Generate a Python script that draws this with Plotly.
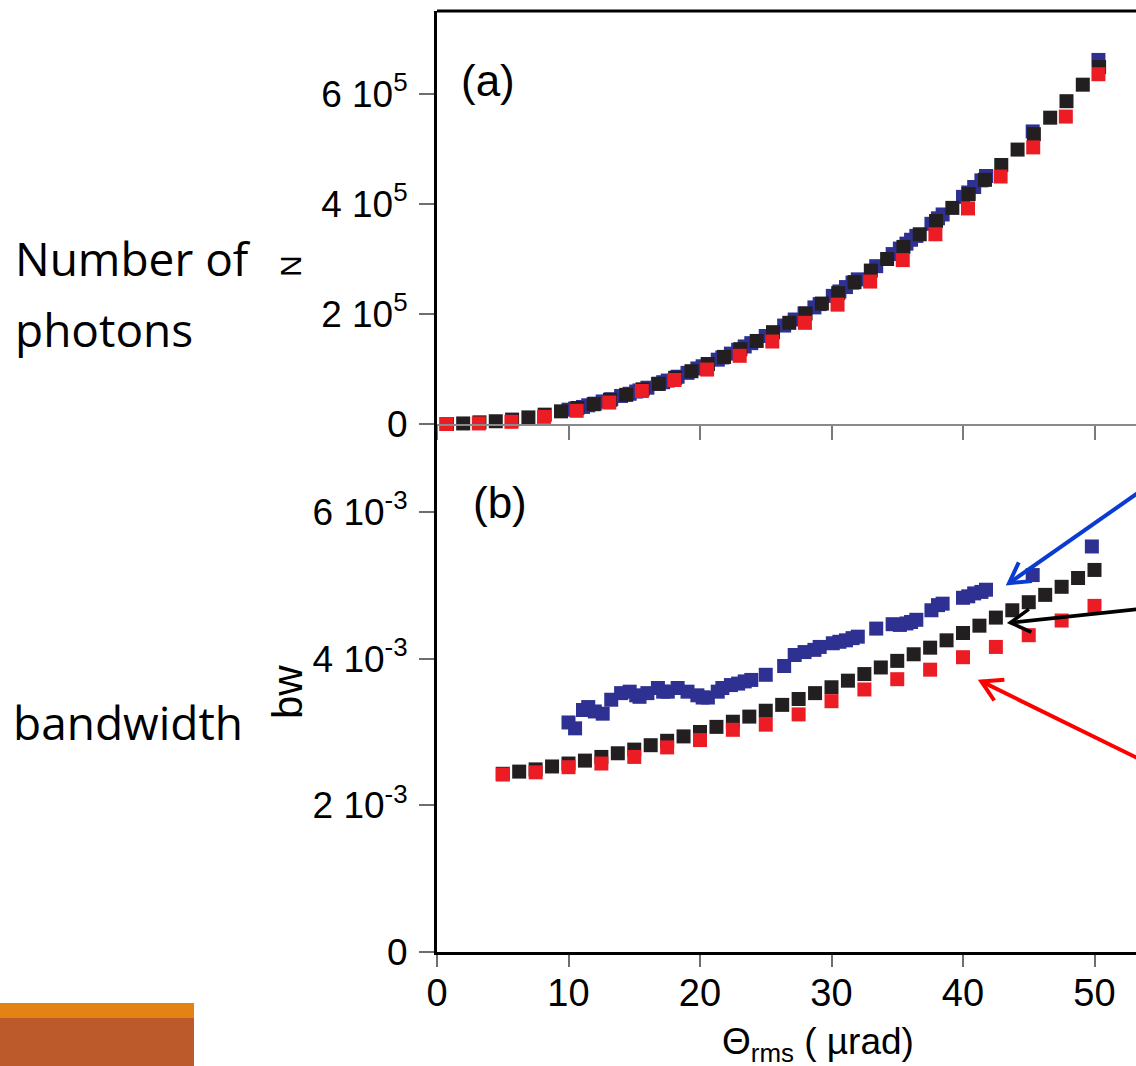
import numpy as np
import plotly.graph_objects as go

# ---------------- data ----------------
# (a) number of photons, N (units of 1e5)
theta_black_a = [0.75, 1.99, 3.23, 4.47, 5.71, 6.95, 8.19, 9.43, 10.67, 11.91, 13.15, 14.39,
                 15.63, 16.87, 18.11, 19.35, 20.59, 21.83, 23.07, 24.31, 25.55, 26.79, 28.03,
                 29.27, 30.51, 31.75, 32.99, 34.23, 35.47, 36.71, 37.95, 39.19, 40.43, 41.67,
                 42.91, 44.15, 45.39, 46.63, 47.87, 49.11, 50.35]
n_black_a = [0.00, 0.01, 0.03, 0.05, 0.08, 0.12, 0.17, 0.23, 0.29, 0.36, 0.44, 0.53,
             0.63, 0.73, 0.84, 0.96, 1.09, 1.22, 1.36, 1.51, 1.67, 1.84, 2.01,
             2.19, 2.38, 2.58, 2.79, 3.00, 3.22, 3.45, 3.69, 3.93, 4.18, 4.44,
             4.71, 4.99, 5.27, 5.57, 5.87, 6.17, 6.49]

theta_red_a = [0.70, 3.18, 5.66, 8.14, 10.62, 13.10, 15.58, 18.06, 20.54, 23.02, 25.50,
               27.98, 30.46, 32.94, 35.42, 37.90, 40.38, 42.86, 45.34, 47.82, 50.30]
n_red_a = [0.00, 0.01, 0.04, 0.13, 0.24, 0.39, 0.60, 0.80, 0.99, 1.24, 1.50,
           1.84, 2.17, 2.59, 2.98, 3.45, 3.92, 4.50, 5.03, 5.59, 6.36]

theta_blue_a = [10.0, 10.5, 11.1, 11.5, 12.0, 12.6, 13.25, 14.0, 14.65, 15.15, 15.4, 16.0,
                16.8, 17.2, 17.55, 18.3, 19.05, 19.8, 20.2, 20.6, 21.35, 21.7, 22.35, 22.9,
                23.4, 23.9, 25.0, 26.4, 27.2, 27.95, 28.7, 29.1, 30.1, 30.6, 31.1, 31.6,
                32.0, 33.4, 34.65, 35.2, 35.7, 36.05, 36.45, 37.6, 38.1, 38.45, 40.0, 40.4,
                40.85, 41.4, 41.75, 45.3, 50.3]
n_blue_a = [0.26, 0.28, 0.31, 0.34, 0.37, 0.41, 0.45, 0.51, 0.55, 0.59, 0.61, 0.66,
            0.73, 0.76, 0.79, 0.86, 0.93, 1.01, 1.05, 1.09, 1.17, 1.21, 1.28, 1.35,
            1.41, 1.47, 1.60, 1.79, 1.90, 2.01, 2.12, 2.18, 2.33, 2.41, 2.49, 2.57,
            2.63, 2.87, 3.09, 3.19, 3.28, 3.35, 3.42, 3.64, 3.74, 3.81, 4.13, 4.21,
            4.31, 4.43, 4.51, 5.32, 6.62]

# (b) bandwidth, bw (units of 1e-3)
theta_black_b = [5.0, 6.25, 7.5, 8.75, 10.0, 11.25, 12.5, 13.75, 15.0, 16.25, 17.5, 18.75,
                 20.0, 21.25, 22.5, 23.75, 25.0, 26.25, 27.5, 28.75, 30.0, 31.25, 32.5,
                 33.75, 35.0, 36.25, 37.5, 38.75, 40.0, 41.25, 42.5, 43.75, 45.0, 46.25,
                 47.5, 48.75, 50.0]
bw_black_b = [2.43, 2.46, 2.49, 2.53, 2.57, 2.61, 2.66, 2.71, 2.76, 2.82, 2.88, 2.94,
              3.00, 3.07, 3.14, 3.21, 3.29, 3.37, 3.45, 3.53, 3.61, 3.70, 3.79,
              3.88, 3.97, 4.06, 4.15, 4.25, 4.35, 4.45, 4.56, 4.66, 4.77, 4.87,
              4.98, 5.10, 5.21]

theta_red_b = [5.0, 7.5, 10.0, 12.5, 15.0, 17.5, 20.0, 22.5, 25.0, 27.5, 30.0, 32.5,
               35.0, 37.5, 40.0, 42.5, 45.0, 47.5, 50.0]
bw_red_b = [2.42, 2.45, 2.52, 2.57, 2.66, 2.79, 2.89, 3.03, 3.10, 3.24, 3.42, 3.58,
            3.72, 3.85, 4.02, 4.16, 4.32, 4.52, 4.72]

theta_blue_b = [10.0, 10.5, 11.1, 11.5, 12.0, 12.6, 13.25, 14.0, 14.65, 15.15, 15.4, 16.0,
                16.8, 17.2, 17.55, 18.3, 19.05, 19.8, 20.2, 20.6, 21.35, 21.7, 22.35, 22.9,
                23.4, 23.9, 25.0, 26.4, 27.2, 27.95, 28.7, 29.1, 30.1, 30.6, 31.1, 31.6,
                32.0, 33.4, 34.65, 35.2, 35.7, 36.05, 36.45, 37.6, 38.1, 38.45, 40.0, 40.4,
                40.85, 41.4, 41.75, 45.3, 49.8]
bw_blue_b = [3.13, 3.05, 3.30, 3.34, 3.28, 3.25, 3.44, 3.53, 3.55, 3.50, 3.48, 3.53,
             3.60, 3.55, 3.55, 3.60, 3.55, 3.50, 3.47, 3.47, 3.55, 3.60, 3.64, 3.66,
             3.69, 3.71, 3.78, 3.90, 4.05, 4.09, 4.12, 4.16, 4.21, 4.23, 4.25, 4.28,
             4.30, 4.41, 4.47, 4.46, 4.48, 4.50, 4.53, 4.66, 4.73, 4.75, 4.83, 4.85,
             4.89, 4.91, 4.94, 5.14, 5.53]

x_ticks = [0, 10, 20, 30, 40, 50]
n_tickvals = [0, 2e5, 4e5, 6e5]
n_ticktext = ["0", "2 10<sup>5</sup>", "4 10<sup>5</sup>", "6 10<sup>5</sup>"]
bw_tickvals = [0, 2e-3, 4e-3, 6e-3]
bw_ticktext = ["0", "2 10<sup>-3</sup>", "4 10<sup>-3</sup>", "6 10<sup>-3</sup>"]

# ---------------- styling ----------------
W, H = 1136, 1066
ML, MR, MT, MB = 437, 0, 11, 114
PW, PH = W - ML - MR, H - MT - MB
X_MAX = PW / 13.15
SPLIT = (PH - 413) / PH          # boundary between panels (a) and (b)
BW_MAX = 7.2e-3

RED = "#ec1c24"
BLACK = "#231f20"
BLUE = "#2e3192"
AX_FONT = "Liberation Sans, Arial, sans-serif"
TXT_FONT = "Open Sans, sans-serif"
MSIZE = 14


def px_x(px):
    return (px - ML) / PW


def px_y(py):
    return (H - MB - py) / PH


fig = go.Figure()

scale_a, scale_b = 1e5, 1e-3
for xs, ys, col in [(theta_blue_a, n_blue_a, BLUE), (theta_black_a, n_black_a, BLACK),
                    (theta_red_a, n_red_a, RED)]:
    fig.add_trace(go.Scatter(x=xs, y=[v * scale_a for v in ys], mode="markers",
                             marker=dict(symbol="square", size=MSIZE, color=col, line=dict(width=0)),
                             xaxis="x", yaxis="y", cliponaxis=False, showlegend=False))
for xs, ys, col in [(theta_blue_b, bw_blue_b, BLUE), (theta_black_b, bw_black_b, BLACK),
                    (theta_red_b, bw_red_b, RED)]:
    fig.add_trace(go.Scatter(x=xs, y=[v * scale_b for v in ys], mode="markers",
                             marker=dict(symbol="square", size=MSIZE, color=col, line=dict(width=0)),
                             xaxis="x2", yaxis="y2", cliponaxis=False, showlegend=False))

tickfont = dict(family=AX_FONT, size=37, color="black")
fig.update_layout(
    width=W, height=H,
    margin=dict(l=ML, r=MR, t=MT, b=MB, pad=0),
    paper_bgcolor="white", plot_bgcolor="white",
    showlegend=False,
    xaxis=dict(domain=[0, 1], anchor="y", range=[0, X_MAX], tickvals=x_ticks,
               showticklabels=False, ticks="outside", ticklen=14, tickwidth=2,
               tickcolor="#7a7a7a", showline=True, linecolor="#8a8a8a", linewidth=2,
               showgrid=False, zeroline=False),
    yaxis=dict(domain=[SPLIT, 1], anchor="x", range=[0, 7.51e5], tickvals=n_tickvals,
               ticktext=n_ticktext, tickfont=tickfont, ticks="outside", ticklen=15,
               tickwidth=2, tickcolor="#6e6e6e", showline=True, linecolor="black",
               linewidth=3, showgrid=False, zeroline=False, ticklabelstandoff=4),
    xaxis2=dict(domain=[0, 1], anchor="y2", range=[0, X_MAX], tickvals=x_ticks,
                tickfont=dict(family=AX_FONT, size=38, color="black"), ticks="outside",
                ticklen=12, tickwidth=2, tickcolor="#6e6e6e", showline=True,
                linecolor="black", linewidth=3, showgrid=False, zeroline=False,
                ticklabelstandoff=-7),
    yaxis2=dict(domain=[0, SPLIT], anchor="x2", range=[0, BW_MAX], tickvals=bw_tickvals,
                ticktext=bw_ticktext, tickfont=tickfont, ticks="outside", ticklen=15,
                tickwidth=2, tickcolor="#6e6e6e", showline=True, linecolor="black",
                linewidth=3, showgrid=False, zeroline=False, ticklabelstandoff=4),
)

# frame top edge
fig.add_shape(type="line", xref="paper", yref="paper", x0=0, x1=1, y0=1, y1=1,
              line=dict(color="black", width=3))

# footer band
fig.add_shape(type="rect", xref="paper", yref="paper", x0=px_x(0), x1=px_x(194),
              y0=px_y(1018), y1=px_y(1003), fillcolor="#e38314", line=dict(width=0), layer="above")
fig.add_shape(type="rect", xref="paper", yref="paper", x0=px_x(0), x1=px_x(194),
              y0=px_y(1066), y1=px_y(1018), fillcolor="#bd5a2c", line=dict(width=0), layer="above")


def label(text, px, py, size, family=AX_FONT, angle=0, xanchor="center"):
    fig.add_annotation(text=text, xref="paper", yref="paper", x=px_x(px), y=px_y(py),
                       xanchor=xanchor, yanchor="middle", showarrow=False, textangle=angle,
                       font=dict(family=family, size=size, color="black"))


label("(a)", 488, 80, 44)
label("(b)", 500, 503, 44)
label("N", 290, 266, 30, angle=-90)
label("bw", 287, 692, 42, angle=-90)
label("Θ<sub>rms</sub> ( µrad)", 818, 1044, 37)
label("Number of", 13, 258, 46, family=TXT_FONT, xanchor="left")
label("photons", 13, 329, 46, family=TXT_FONT, xanchor="left")
label("bandwidth", 11, 722, 46, family=TXT_FONT, xanchor="left")

# pointer arrows on panel (b): shaft plus open chevron head, drawn in data units
UX = X_MAX / PW                    # theta units per pixel
UY = BW_MAX / (SPLIT * PH)         # bw units per pixel


def pointer(tip_x, tip_y, dx, dy, color, width, head=23, spread=30):
    """Arrow pointing at (tip_x, tip_y); tail offset (dx, dy) in screen pixels."""
    length = np.hypot(dx, dy)
    ux, uy = dx / length, dy / length
    tail = (tip_x + dx * UX, tip_y - dy * UY)
    fig.add_shape(type="line", xref="x2", yref="y2", x0=tip_x, y0=tip_y,
                  x1=tail[0], y1=tail[1], line=dict(color=color, width=width))
    barbs = []
    for s in (1, -1):
        a = np.radians(spread * s)
        bx = head * (ux * np.cos(a) - uy * np.sin(a))
        by = head * (ux * np.sin(a) + uy * np.cos(a))
        barbs.append((tip_x + bx * UX, tip_y - by * UY))
    path = (f"M {barbs[0][0]},{barbs[0][1]} L {tip_x},{tip_y} "
            f"L {barbs[1][0]},{barbs[1][1]}")
    fig.add_shape(type="path", xref="x2", yref="y2", path=path,
                  line=dict(color=color, width=width))


pointer(43.5, 5.03e-3, 160, -112, "#0a3cd2", 4)
pointer(43.6, 4.49e-3, 160, -17, "black", 3.5)
pointer(41.4, 3.69e-3, 175, 86, "#ff0000", 4)

fig.write_html("out.html")
